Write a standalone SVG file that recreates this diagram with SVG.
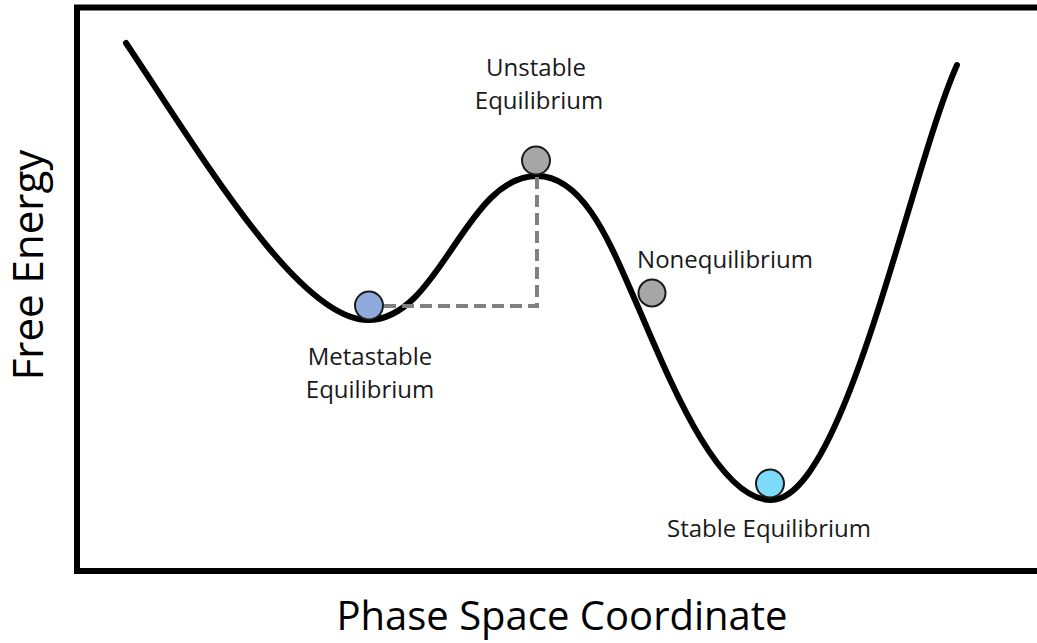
<svg xmlns="http://www.w3.org/2000/svg" width="1037" height="643" viewBox="0 0 1037 643">
<style>
.lbl{font-family:"Open Sans","Noto Sans",sans-serif;font-size:24px;fill:#1a1a1a;text-anchor:middle}
.axis{font-family:"Open Sans","Noto Sans",sans-serif;font-size:40px;fill:#000;text-anchor:middle}
.ball{stroke:#1a1a1a;stroke-width:2}
</style>
<rect width="1037" height="643" fill="#fff"/>
<g id="frame"><path d="M1040,7.5 H77 V571 H1040" fill="none" stroke="#000" stroke-width="6"/></g>
<g id="connectors">
<path id="curve" d="M126,43 C206,163 300,320 368,320 C440,320 465,176 537,176 C585,176 612,248 635,300 C665,368 715,500 771,500 C845,500 910,170 957,65" fill="none" stroke="#000" stroke-width="6" stroke-linecap="round"/>
<path id="dash" d="M384,306 H537 V177" fill="none" stroke="#808080" stroke-width="4" stroke-dasharray="12 6"/>
</g>
<g id="metastable"><circle class="ball" cx="369" cy="305.5" r="14" fill="#8FAADC"/><text class="lbl" x="370" y="365">Metastable</text><text class="lbl" x="370" y="398">Equilibrium</text></g>
<g id="unstable"><circle class="ball" cx="536" cy="160.5" r="14" fill="#A6A6A6"/><text class="lbl" x="536" y="76">Unstable</text><text class="lbl" x="539" y="109">Equilibrium</text></g>
<g id="nonequilibrium"><circle class="ball" cx="652" cy="293" r="13.5" fill="#A6A6A6"/><text class="lbl" x="725" y="268">Nonequilibrium</text></g>
<g id="stable"><circle class="ball" cx="770" cy="483.5" r="14" fill="#7DDAFB"/><text class="lbl" x="769" y="537">Stable Equilibrium</text></g>
<g id="axes"><text class="axis" x="562" y="630">Phase Space Coordinate</text><text class="axis" style="font-size:42px" transform="translate(43,265) rotate(-90)" x="0" y="0">Free Energy</text></g>
</svg>
